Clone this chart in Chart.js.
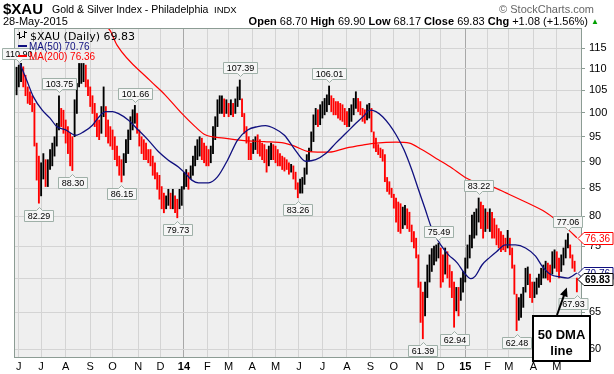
<!DOCTYPE html>
<html>
<head>
<meta charset="utf-8">
<script src="https://cdn.jsdelivr.net/npm/chart.js@4.4.1/dist/chart.umd.min.js"></script>
<style>
  body { margin: 0; background: #fff; font-family: "Liberation Sans", Arial, sans-serif; }
  #wrap { position: relative; width: 614px; height: 374px; overflow: hidden; }
  #wrap canvas { position: absolute; left: 0; top: 0; }
  .t { position: absolute; white-space: pre; line-height: 1; color: #000; }
</style>
</head>
<body>
<div id="wrap">
  <canvas id="chart" width="614" height="374"></canvas>
  <span class="t" style="left:3px;top:1px;font-size:15px;font-weight:bold">$XAU</span>
  <span class="t" style="left:52px;top:4px;font-size:10.5px">Gold &amp; Silver Index - Philadelphia</span>
  <span class="t" style="left:214px;top:5px;font-size:9.5px">INDX</span>
  <span class="t" style="right:20px;top:4px;font-size:11px;color:#666">© StockCharts.com</span>
  <span class="t" style="left:3px;top:16px;font-size:11px">28-May-2015</span>
  <span class="t" style="right:26px;top:16px;font-size:11px"><b>Open</b> 68.70 <b>High</b> 69.90 <b>Low</b> 68.17 <b>Close</b> 69.83 <b>Chg</b> +1.08 (+1.56%)</span>
  <span class="t" style="left:591px;top:18px;font-size:8px;color:#00a000">▲</span>
</div>

<script>
// x axis is counted in trading days, day 0 = 29-May-2013, one bar every 2 days
const MONTH_DAYS = [3, 23, 45, 67, 87, 110, 130, 151, 172, 191, 212, 233, 254, 275, 297, 318, 339, 362, 381, 403, 423, 442, 464, 485];
const MONTH_LABELS = ['J', 'J', 'A', 'S', 'O', 'N', 'D', '14', 'F', 'M', 'A', 'M', 'J', 'J', 'A', 'S', 'O', 'N', 'D', '15', 'F', 'M', 'A', 'M'];
const Y_TICKS = [60, 65, 70, 75, 80, 85, 90, 95, 100, 105, 110, 115];

const HIGH = [
  110.4, 110.9, 111.3, 110.5, 108.5, 105.8, 104.7, 103.8, 102.1, 93.7,
  91.1, 89.8, 91.6, 90.4, 90.4, 92.4, 93.7, 95.0, 97.8, 103.75,
  101.0, 100.6, 98.5, 97.1, 95.7, 95.0, 102.9, 106.6, 111.3, 111.3,
  111.3, 110.9, 107.4, 105.8, 103.8, 102.1, 99.9, 98.5, 101.4, 105.8,
  101.4, 98.5, 97.1, 96.4, 95.0, 93.1, 91.1, 90.4, 91.6, 94.4,
  96.4, 99.2, 100.7, 101.66, 99.9, 96.4, 95.0, 94.4, 93.7, 92.4,
  92.4, 91.1, 89.8, 87.9, 87.4, 85.3, 84.1, 83.6, 84.8, 84.1,
  84.8, 83.6, 83.0, 84.8, 85.3, 87.9, 88.5, 87.9, 89.2, 91.1,
  93.1, 94.4, 95.0, 94.7, 93.7, 93.1, 92.4, 93.1, 97.1, 99.2,
  102.9, 103.8, 103.8, 103.1, 102.9, 102.1, 102.9, 102.1, 103.1, 105.8,
  107.39, 103.1, 99.9, 97.1, 95.0, 93.7, 94.4, 95.0, 95.4, 94.4,
  93.7, 93.4, 92.4, 93.1, 93.7, 93.4, 93.1, 92.4, 91.6, 91.1,
  90.8, 90.4, 89.8, 89.5, 89.2, 88.0, 86.0, 86.7, 87.0, 88.8,
  91.4, 92.7, 96.0, 99.6, 101.0, 100.7, 101.8, 102.5, 103.2, 104.0,
  106.01, 103.8, 103.2, 102.5, 102.5, 102.1, 101.8, 101.0, 100.3, 101.0,
  101.8, 103.2, 104.7, 103.2, 102.5, 101.0, 100.7, 101.8, 102.1, 101.0,
  96.0, 94.7, 93.4, 92.7, 92.4, 91.4, 87.0, 86.2, 85.0, 83.9,
  83.2, 82.5, 82.2, 81.6, 81.9, 81.3, 80.7, 78.5, 77.4, 76.3,
  73.6, 69.4, 67.9, 69.4, 72.0, 73.6, 74.6, 75.0, 75.2, 75.49,
  74.7, 73.6, 74.7, 74.1, 72.0, 71.0, 69.4, 68.6, 68.6, 70.0,
  71.0, 73.1, 75.2, 76.8, 80.2, 80.7, 81.3, 83.22, 82.5, 81.9,
  81.3, 80.7, 81.3, 80.7, 79.6, 78.5, 77.9, 77.4, 76.8, 76.3,
  77.6, 76.3, 74.7, 72.0, 67.6, 67.1, 67.6, 68.6, 71.5, 71.7,
  70.6, 69.4, 69.4, 70.0, 70.6, 71.5, 72.0, 72.6, 72.3, 72.0,
  74.1, 74.4, 74.1, 73.1, 73.6, 74.7, 76.0, 77.06, 75.2, 73.6,
  72.6, 70.0
];
const LOW = [
  104.0, 105.8, 107.0, 105.8, 103.8, 102.1, 101.8, 100.3, 93.1, 86.5,
  82.29, 83.6, 86.7, 85.3, 85.3, 88.5, 89.2, 91.1, 93.1, 96.4,
  97.1, 95.7, 93.7, 91.6, 89.2, 88.30, 95.0, 99.9, 105.8, 106.6,
  107.0, 105.8, 103.8, 101.4, 99.9, 97.1, 95.0, 94.4, 95.7, 99.2,
  95.0, 93.7, 93.1, 92.4, 90.4, 89.2, 87.4, 86.15, 87.4, 89.8,
  91.6, 94.4, 96.4, 97.8, 95.7, 93.1, 91.6, 90.4, 90.4, 89.8,
  89.2, 87.4, 86.7, 84.8, 83.0, 81.3, 80.6, 81.3, 81.9, 81.3,
  81.3, 80.6, 79.73, 81.3, 81.9, 84.8, 85.3, 84.8, 86.7, 87.4,
  89.2, 90.4, 91.1, 90.4, 89.8, 89.2, 89.2, 89.8, 91.6, 94.4,
  97.1, 99.9, 99.9, 99.2, 99.9, 99.2, 99.6, 99.2, 99.9, 101.4,
  102.9, 99.2, 95.7, 93.7, 90.4, 90.4, 91.6, 92.4, 91.6, 91.1,
  90.4, 89.8, 88.0, 89.2, 90.4, 90.4, 89.8, 89.2, 89.2, 88.5,
  88.2, 88.5, 87.6, 88.0, 86.7, 84.8, 83.26, 84.1, 84.1, 85.7,
  87.6, 90.1, 92.0, 94.0, 97.5, 97.1, 97.5, 98.9, 99.6, 100.3,
  101.8, 100.3, 99.6, 99.6, 98.9, 98.5, 98.2, 97.5, 97.1, 97.1,
  98.2, 99.6, 101.0, 100.3, 99.6, 98.2, 97.8, 98.5, 98.9, 96.0,
  92.7, 92.0, 91.4, 90.8, 90.1, 86.2, 84.4, 83.9, 83.3, 81.4,
  79.0, 77.4, 77.1, 77.9, 78.5, 77.9, 77.4, 75.7, 74.7, 73.1,
  68.6, 63.6, 61.39, 64.5, 67.1, 69.4, 71.0, 72.0, 72.6, 73.1,
  68.6, 69.4, 70.6, 70.0, 68.6, 67.1, 62.94, 65.2, 64.5, 66.7,
  67.9, 69.4, 71.5, 73.1, 74.7, 76.3, 76.8, 79.0, 77.9, 76.3,
  77.4, 77.9, 77.4, 76.3, 76.3, 75.2, 74.7, 74.1, 74.4, 74.1,
  74.7, 73.6, 71.5, 67.6, 62.48, 63.9, 64.3, 65.7, 67.9, 69.0,
  67.1, 66.4, 67.1, 67.6, 68.6, 69.0, 70.0, 70.0, 69.7, 69.4,
  70.6, 71.5, 71.0, 70.0, 71.0, 72.0, 73.1, 74.7, 73.1, 71.5,
  71.0, 67.93
];
const LAST_CLOSE = 69.83;

const MA50_DAYS = [4, 10, 16, 24, 31, 37, 45, 54, 61, 69, 75, 81, 87, 92, 101, 110, 119, 128, 137, 146,
  152, 158, 164, 173, 181, 190, 199, 208, 217, 224, 232, 241, 251, 260, 269, 278, 287, 296, 305, 313,
  317, 323, 329, 335, 341, 348, 355, 361, 367, 373, 381, 388, 396, 402, 408, 412, 418, 425, 431, 439,
  448, 457, 466, 472, 480, 487, 495, 503];
const MA50 = [111.3, 107.4, 103.6, 100.6, 98.9, 97.1, 96.4, 95.3, 96.0, 97.4, 99.2, 100.3, 100.3, 99.9, 98.5, 96.4, 94.3, 92.0, 90.3, 89.0,
  87.8, 86.5, 86.0, 86.0, 87.1, 90.3, 94.3, 96.4, 97.1, 97.3, 96.7, 95.3, 92.2, 90.1, 90.4, 91.6, 93.7, 95.7, 97.8, 99.6,
  100.6, 100.3, 99.2, 97.5, 95.4, 92.4, 88.5, 84.8, 81.3, 77.9, 75.2, 73.6, 72.3, 70.8, 69.9, 70.3, 72.0, 73.2, 74.1, 75.2,
  75.2, 74.7, 73.4, 71.8, 70.5, 70.2, 70.0, 70.76];

const MA200_DAYS = [80, 85, 91, 120, 134, 149, 161, 170, 187, 205, 223, 241, 250, 263, 281, 296, 311, 323, 341,
  353, 364, 379, 391, 403, 415, 427, 440, 457, 475, 487, 496, 503];
const MA200 = [121.0, 119.4, 115.8, 107.4, 104.0, 99.9, 97.1, 95.4, 94.7, 94.2, 94.0, 93.7, 93.1, 92.0, 91.9, 92.7, 93.3, 93.7, 93.9,
  93.7, 92.4, 90.4, 88.8, 87.0, 85.9, 85.3, 84.1, 82.5, 80.7, 79.0, 77.6, 76.36];

// price notes: day, value, side of the bar
const NOTE_DAYS = [3, 39, 107, 201, 281, 379, 415, 495, 21, 51, 95, 145, 253, 365, 393, 449, 503];
const NOTE_VALUES = [110.90, 103.75, 101.66, 107.39, 106.01, 75.49, 83.22, 77.06, 82.29, 88.30, 86.15, 79.73, 83.26, 61.39, 62.94, 62.48, 67.93];
const NOTE_SIDES = ['hi', 'hi', 'hi', 'hi', 'hi', 'hi', 'hi', 'hi', 'lo', 'lo', 'lo', 'lo', 'lo', 'lo', 'lo', 'lo', 'lo'];

const FONT = '"Liberation Sans", Arial, sans-serif';
const RED = '#ff0000';
const NAVY = '#10107f';

// black when the bar moved up, red when it moved down
const barColors = HIGH.map((h, i) => {
    if (i === 0) return '#000000';
    const mid = (h + LOW[i]) / 2;
    const prev = (HIGH[i - 1] + LOW[i - 1]) / 2;
    return mid >= prev ? '#000000' : RED;
});

function noteBox(ctx, cx, py, text, side, maxRight) {
    ctx.font = '9px ' + FONT;
    const w = Math.round(ctx.measureText(text).width) + 6;
    const h = 11;
    let left = Math.round(cx - w / 2) + 0.5;
    if (left + w > maxRight) left = maxRight - w;
    const top = side === 'hi' ? Math.round(py - 12 - h / 2) + 0.5 : Math.round(py + 12 - h / 2) + 0.5;
    const px = Math.round(cx) + 0.5;
    ctx.fillStyle = '#f6f6f6';
    ctx.strokeStyle = '#9fb0a8';
    ctx.lineWidth = 1;
    ctx.beginPath();
    ctx.moveTo(left, top);
    if (side === 'lo') { ctx.lineTo(px - 3, top); ctx.lineTo(px, top - 3); ctx.lineTo(px + 3, top); }
    ctx.lineTo(left + w, top);
    ctx.lineTo(left + w, top + h);
    if (side === 'hi') { ctx.lineTo(px + 3, top + h); ctx.lineTo(px, top + h + 3); ctx.lineTo(px - 3, top + h); }
    ctx.lineTo(left, top + h);
    ctx.closePath();
    ctx.fill();
    ctx.stroke();
    ctx.fillStyle = '#000';
    ctx.textAlign = 'center';
    ctx.textBaseline = 'middle';
    ctx.fillText(text, left + w / 2, top + h / 2 + 0.5);
}

function valueTag(ctx, y, text, color, bold) {
    const h = 12, xTip = 578, xBox = 584, xEnd = 613;
    const top = Math.round(y - h / 2) + 0.5;
    ctx.beginPath();
    ctx.moveTo(xTip, top + h / 2);
    ctx.lineTo(xBox, top);
    ctx.lineTo(xEnd, top);
    ctx.lineTo(xEnd, top + h);
    ctx.lineTo(xBox, top + h);
    ctx.closePath();
    ctx.fillStyle = '#fff';
    ctx.fill();
    ctx.strokeStyle = color;
    ctx.lineWidth = 1;
    ctx.stroke();
    ctx.fillStyle = color;
    ctx.font = (bold ? 'bold ' : '') + '10px ' + FONT;
    ctx.textAlign = 'left';
    ctx.textBaseline = 'middle';
    ctx.fillText(text, xBox + 1, top + h / 2 + 0.5);
}

const decor = {
    id: 'decor',
    beforeDraw(chart) {
        const { ctx, chartArea: a } = chart;
        ctx.save();
        ctx.fillStyle = '#efefef';
        ctx.fillRect(a.left, a.top, a.right - a.left, a.bottom - a.top);
        ctx.restore();
    },
    afterDraw(chart) {
        const { ctx, chartArea: a, scales } = chart;
        const xs = scales.x, ys = scales.y;
        ctx.save();

        // plot frame
        ctx.strokeStyle = '#8c9c94';
        ctx.lineWidth = 1;
        ctx.strokeRect(a.left + 0.5, a.top + 0.5, a.right - a.left - 1, a.bottom - a.top);

        // price notes
        NOTE_DAYS.forEach((d, i) => {
            noteBox(ctx, xs.getPixelForValue(d), ys.getPixelForValue(NOTE_VALUES[i]),
                NOTE_VALUES[i].toFixed(2), NOTE_SIDES[i], 588);
        });

        // legend
        ctx.textAlign = 'left';
        ctx.textBaseline = 'alphabetic';
        ctx.strokeStyle = '#000';
        ctx.beginPath();
        ctx.moveTo(19.5, 32); ctx.lineTo(19.5, 39); ctx.moveTo(17, 34.5); ctx.lineTo(19.5, 34.5);
        ctx.moveTo(19.5, 37.5); ctx.lineTo(22, 37.5);
        ctx.moveTo(24.5, 31); ctx.lineTo(24.5, 38); ctx.moveTo(22, 36.5); ctx.lineTo(24.5, 36.5);
        ctx.moveTo(24.5, 32.5); ctx.lineTo(27, 32.5);
        ctx.stroke();
        ctx.fillStyle = '#000';
        ctx.font = '11px "DejaVu Sans", sans-serif';
        ctx.fillText('$XAU (Daily) ' + LAST_CLOSE.toFixed(2), 30, 39.5);

        ctx.font = '10px ' + FONT;
        ctx.fillStyle = NAVY;
        ctx.fillRect(18, 45, 9, 2);
        ctx.fillText('MA(50) ' + MA50[MA50.length - 1].toFixed(2), 29, 49.5);
        ctx.fillStyle = RED;
        ctx.fillRect(18, 55, 9, 2);
        ctx.fillText('MA(200) ' + MA200[MA200.length - 1].toFixed(2), 29, 59.5);

        // last value tags on the right
        valueTag(ctx, ys.getPixelForValue(MA200[MA200.length - 1]), MA200[MA200.length - 1].toFixed(2), RED, false);
        valueTag(ctx, ys.getPixelForValue(MA50[MA50.length - 1]), MA50[MA50.length - 1].toFixed(2), NAVY, false);
        valueTag(ctx, ys.getPixelForValue(LAST_CLOSE), LAST_CLOSE.toFixed(2), '#000', true);

        // "50 DMA line" callout with arrow
        const tipX = xs.getPixelForValue(494), tipY = ys.getPixelForValue(68.6);
        const baseX = 557, baseY = 315;
        const ang = Math.atan2(tipY - baseY, tipX - baseX);
        ctx.strokeStyle = '#000';
        ctx.lineWidth = 2;
        ctx.beginPath();
        ctx.moveTo(baseX, baseY);
        ctx.lineTo(tipX - 6 * Math.cos(ang), tipY - 6 * Math.sin(ang));
        ctx.stroke();
        ctx.fillStyle = '#000';
        ctx.beginPath();
        ctx.moveTo(tipX, tipY);
        ctx.lineTo(tipX - 9 * Math.cos(ang) + 4 * Math.sin(ang), tipY - 9 * Math.sin(ang) - 4 * Math.cos(ang));
        ctx.lineTo(tipX - 9 * Math.cos(ang) - 4 * Math.sin(ang), tipY - 9 * Math.sin(ang) + 4 * Math.cos(ang));
        ctx.closePath();
        ctx.fill();

        ctx.fillStyle = '#fff';
        ctx.fillRect(532, 315, 59, 47);
        ctx.strokeRect(533, 316, 57, 45);
        ctx.fillStyle = '#000';
        ctx.font = 'bold 13px ' + FONT;
        ctx.textAlign = 'center';
        ctx.fillText('50 DMA', 561.5, 335);
        ctx.fillText('line', 561.5, 351);

        ctx.restore();
    }
};

new Chart(document.getElementById('chart'), {
    type: 'bar',
    data: {
        datasets: [
            {
                type: 'line',
                label: 'MA(50)',
                data: MA50_DAYS.map((d, i) => ({ x: d, y: MA50[i] })),
                borderColor: NAVY,
                borderWidth: 1.3,
                pointRadius: 0,
                cubicInterpolationMode: 'monotone',
                order: 0
            },
            {
                type: 'line',
                label: 'MA(200)',
                data: MA200_DAYS.map((d, i) => ({ x: d, y: MA200[i] })),
                borderColor: RED,
                borderWidth: 1.2,
                pointRadius: 0,
                cubicInterpolationMode: 'monotone',
                order: 0
            },
            {
                type: 'bar',
                label: '$XAU',
                data: HIGH.map((h, i) => ({ x: 2 * i + 1, y: [LOW[i], h] })),
                backgroundColor: barColors,
                borderWidth: 0,
                barThickness: 1.2,
                order: 1
            }
        ]
    },
    options: {
        responsive: false,
        animation: false,
        devicePixelRatio: 1,
        layout: { padding: { top: 28, left: 14, right: 0, bottom: 0 } },
        plugins: { legend: { display: false }, tooltip: { enabled: false } },
        scales: {
            x: {
                type: 'linear',
                min: -1.3,
                max: 507.6,
                offset: false,
                bounds: 'data',
                border: { display: false },
                grid: {
                    offset: false,
                    drawTicks: false,
                    color: c => (c.tick && (c.tick.value === 151 || c.tick.value === 403)) ? '#a8a8a8' : '#d4d4d4'
                },
                ticks: {
                    autoSkip: false,
                    maxRotation: 0,
                    minRotation: 0,
                    padding: 3,
                    color: '#000',
                    font: c => ({
                        family: FONT, size: 11,
                        weight: (c.tick && (c.tick.value === 151 || c.tick.value === 403)) ? 'bold' : 'normal'
                    }),
                    callback: v => MONTH_LABELS[MONTH_DAYS.indexOf(v)]
                },
                afterBuildTicks: s => { s.ticks = MONTH_DAYS.map(v => ({ value: v })); },
                afterFit: s => { s.height = 17; }
            },
            y: {
                type: 'logarithmic',
                position: 'right',
                min: 59.02,
                max: 120.16,
                bounds: 'data',
                border: { display: false },
                grid: { color: '#d4d4d4', tickLength: 3, tickColor: '#8c9c94' },
                ticks: {
                    padding: 4,
                    color: '#000',
                    font: { family: FONT, size: 11 },
                    callback: v => String(v)
                },
                afterBuildTicks: s => { s.ticks = Y_TICKS.map(v => ({ value: v })); },
                afterFit: s => { s.width = 32; }
            }
        }
    },
    plugins: [decor]
});
</script>
</body>
</html>
